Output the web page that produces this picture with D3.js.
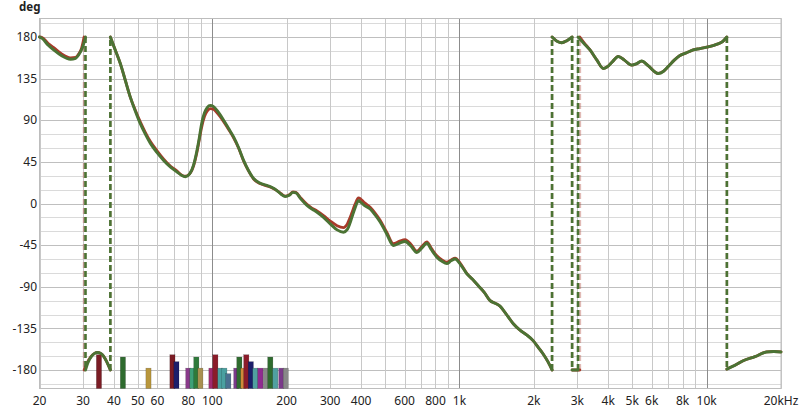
<!DOCTYPE html>
<html><head><meta charset="utf-8">
<script src="https://cdn.jsdelivr.net/npm/d3@7/dist/d3.min.js"></script>
<style>body{margin:0;background:#fff}svg{display:block}text{font-family:"Noto Sans","Open Sans",sans-serif}</style>
</head><body><svg id="chart" width="800" height="413"></svg>
<script>
// ---- data ----
const xTickValues = [20,30,40,50,60,80,100,200,300,400,600,800,1000,2000,3000,4000,5000,6000,8000,10000,20000];
const xTickLabels = ["20","30","40","50","60","80","100","200","300","400","600","800","1k","2k","3k","4k","5k","6k","8k","10k","20kHz"];
const yTickValues = [180,135,90,45,0,-45,-90,-135,-180];
const yTickLabels = ["180","135","90","45","0","-45","-90","-135","-180"];

const greenFreqs = [20,20.5,21.7,22.85,24.5,26.7,28,28.8,29.8,30.7,
 30.7,31.4,32.4,33.4,34.3,35.3,36.3,37.4,38.7,
 38.7,40.5,42.5,44.5,46.6,48.8,51.2,53.6,56.2,59.8,63.6,68,72.1,75,77.9,81,84.1,86.5,88.5,90.5,93,95.5,98.2,101,105,111.2,116.5,122,128,133.9,140,147,156,166.4,174,182.7,190,197.4,205,212,218,228,241.6,253,265.3,282,300.2,320,339.6,352,360,367.2,378,390.5,398,412,435.4,455,477.8,508,540.8,570,603.2,636,672.5,705,738.4,770,810.3,850,889.3,925,960.6,1010,1071,1130,1193,1260,1331,1400,1460,1550,1652,1759,1870,1991,2090,2185,2280,2370,
 2370,2480,2593,2720,2857,
 2857,3018,
 3018,3190,3375,3600,3819,3950,4150,4391,4650,4975,5200,5461,5800,6372,6700,6993,7400,7798,8300,8825,9400,10000,10975,11600,12080,
 12080,13000,14059,15700,17470,18700,20000];
const greenPhase = [180,178.5,171,166,160,156,157,160.5,168,180,
 -180,-172,-165.5,-162,-161,-162,-165,-171,-180,
 180,166,151,133,115,100,86,75,65,55,46.6,39,34,30.5,29,32,42,56,70,86,98,104,106,105,100,90,81,72,60,46.6,36,27,22,19.5,17.5,14,10,7.6,9,12,11.5,5,-2,-6,-9.4,-15,-22,-28.5,-31,-28,-22,-15,-5,3,1.5,-2,-6,-12,-20,-33,-45.5,-43,-41,-46,-53,-48,-43,-50,-58,-62.5,-65,-62,-60,-66,-76,-82,-89,-96,-105,-108,-111,-120,-130,-137,-142,-148.5,-156,-163,-171,-180,
 180,175.5,173.8,176,180,
 -180,-180,
 180,173,166,155,146,147.5,153,159,155,149.6,151,154,149,140.6,143,148,155,160,163,166,167.5,169,172,175,180,
 -179,-175,-170,-165.5,-160.5,-160,-160.5];

const redFreqs = [20,20.5,21.7,22.85,24.5,26.7,28,28.8,29.6,30.3,
 30.3,31.2,32.3,33.4,34.3,35.3,36.3,37.4,38.7,
 38.7,40.5,42.5,44.5,46.6,48.8,51.2,53.6,56.2,59.8,63.6,68,72.1,75,77.9,81,84.1,86.5,88.5,90.5,93,95.5,98.2,101,105,111.2,116.5,122,128,133.9,140,147,156,166.4,174,182.7,190,197.4,205,212,218,228,241.6,253,265.3,282,300.2,320,339.6,352,360,367.2,378,390.5,398,412,435.4,455,477.8,508,540.8,570,603.2,636,672.5,705,738.4,770,810.3,850,889.3,925,960.6,1010,1071,1130,1193,1260,1331,1400,1460,1550,1652,1759,1870,1991,2090,2185,2280,2370,
 2370,2480,2593,2720,2857,
 2857,3070,
 3070,3190,3375,3600,3819,3950,4150,4391,4650,4975,5200,5461,5800,6372,6700,6993,7400,7798,8300,8825,9400,10000,10975,11600,12080,
 12080,13000,14059,15700,17470,18700,20000];
const redPhase = [180,179.5,173,168.5,162,157.5,158,161.5,168,180,
 -180,-172,-165.5,-162,-161,-162,-165,-171,-180,
 180,166,151,133,115,101,88,77,67,57,48,40,35,31,29.5,32,41,54,68,82,94,100,102.5,102,97.5,88.5,80,71,59.5,46,35.5,26.5,21.5,19,17,14,10.5,8,9.5,12.5,12,6,-1,-5,-8,-13,-19,-24,-26,-22,-16,-10,-1,6,5,1,-4,-10,-18,-31,-43.5,-41,-39,-44,-51.5,-46.5,-41.5,-48.5,-56.5,-61,-63.5,-61,-59,-65,-75.5,-82,-89,-96,-105,-108,-111,-120,-130,-137,-142,-148.5,-156,-163,-171,-180,
 180,175.5,173.8,176,180,
 -180,-180,
 180,174,166,155,146,147.5,153,159,155,149.6,151,154,149,140.6,143,148,155,160,163,166,167.5,169,172,175,180,
 -179,-175,-170,-165.5,-160.5,-160,-160.5];

const barFreqs = [34.8,43.5,55.2,69,71.6,80,83.1,86.2,89.5,99.2,102.9,107.8,111.9,116.1,125.1,128.7,133.5,137.3,143.2,149.3,156.5,164.7,171.7,179.9,190.3,198.3];
const barTops  = [-163.5,-166,-178,-163.5,-171,-178,-178,-166,-178,-178,-163.5,-178,-178,-184,-178,-166,-178,-163.5,-171,-178,-178,-178,-166,-178,-178,-178];
const barColors = ["#7b1c24","#2e6b2e","#b8963c","#7b1c24","#1c1f6b","#8a3a8a","#3da078","#2e7a3a","#a89050","#a02a70","#8b1c2a","#4aa0a0","#4aa0a0","#4a7090","#7a3a8a","#2e6b2e","#d08a3a","#8b1c2a","#1c1f6b","#50a0a0","#902a90","#888888","#2e6b2e","#50a0a0","#7a3a8a","#888888"];

// ---- chart ----
const svg = d3.select("#chart");
const x = d3.scaleLog().domain([20, 20000]).range([39.5, 781]);
const y = d3.scaleLinear().domain([-200, 200]).range([388.5, 18.5]);

const grid = svg.append("g");
for (let v = -195; v <= 195; v += 15) {
  const major = v % 45 === 0;
  grid.append("line").attr("x1", x(20)).attr("x2", x(20000))
    .attr("y1", Math.round(y(v)) + 0.5).attr("y2", Math.round(y(v)) + 0.5)
    .attr("stroke", major ? "#bfbfbf" : "#dadada").attr("stroke-width", 1);
}
const vLines = [];
[10, 100, 1000, 10000].forEach(d => { for (let k = 1; k <= 9; k++) { const f = d * k; if (f >= 20 && f <= 20000) vLines.push(f); } });
vLines.push(20000);
vLines.forEach(f => {
  const dec = [100, 1000, 10000].includes(f);
  grid.append("line").attr("x1", Math.round(x(f)) + 0.5).attr("x2", Math.round(x(f)) + 0.5)
    .attr("y1", y(200)).attr("y2", y(-200))
    .attr("stroke", dec ? "#8c8c8c" : "#c8c8c8").attr("stroke-width", 1);
});
svg.append("rect").attr("x", x(20)).attr("y", y(200)).attr("width", x(20000) - x(20)).attr("height", y(-200) - y(200))
  .attr("fill", "none").attr("stroke", "#bdbdbd");

// bars
svg.append("g").selectAll("rect").data(barFreqs).join("rect")
  .attr("x", (d) => x(d) - 2.6).attr("width", 5.2)
  .attr("y", (d, i) => y(barTops[i])).attr("height", (d, i) => y(-200) - y(barTops[i]))
  .attr("fill", (d, i) => barColors[i]).attr("stroke", "rgba(0,0,0,0.3)").attr("stroke-width", 0.5);

// curves
function drawSeries(freqs, phase, color, dashOpacity, width) {
  const pts = freqs.map((f, i) => [f, phase[i]]);
  const segs = []; const jumps = [];
  let cur = [pts[0]];
  for (let i = 1; i < pts.length; i++) {
    if (Math.abs(pts[i][1] - pts[i - 1][1]) > 180) { segs.push(cur); jumps.push([pts[i - 1], pts[i]]); cur = [pts[i]]; }
    else cur.push(pts[i]);
  }
  segs.push(cur);
  const line = d3.line().x(d => x(d[0])).y(d => y(d[1])).curve(d3.curveMonotoneX);
  const g = svg.append("g");
  jumps.forEach(j => {
    g.append("line").attr("x1", x(j[0][0])).attr("x2", x(j[1][0]))
      .attr("y1", y(j[0][1])).attr("y2", y(j[1][1]))
      .attr("stroke", color).attr("stroke-opacity", dashOpacity).attr("stroke-width", 2.6)
      .attr("stroke-dasharray", "6,3");
  });
  segs.forEach(s => {
    g.append("path").attr("d", line(s)).attr("fill", "none").attr("stroke", color)
      .attr("stroke-width", width).attr("stroke-linejoin", "round").attr("stroke-linecap", "round");
  });
}
drawSeries(redFreqs, redPhase, "#a83a2a", 0.35, 2.8);
drawSeries(greenFreqs, greenPhase, "#4b7334", 1, 2.9);

// axes labels
const yl = svg.append("g");
yTickValues.forEach((v, i) => {
  yl.append("text").attr("x", 37).attr("y", y(v)).attr("dy", "0.35em").attr("text-anchor", "end")
    .attr("font-size", 12).attr("fill", "#222").text(yTickLabels[i]);
});
const xl = svg.append("g");
xTickValues.forEach((v, i) => {
  xl.append("text").attr("x", x(v)).attr("y", 405).attr("text-anchor", "middle")
    .attr("font-size", 12).attr("fill", "#222").text(xTickLabels[i]);
});
svg.append("text").attr("x", 19).attr("y", 11).attr("font-size", 11.5).attr("font-weight", "bold").attr("fill", "#222").text("deg");
</script></body></html>
